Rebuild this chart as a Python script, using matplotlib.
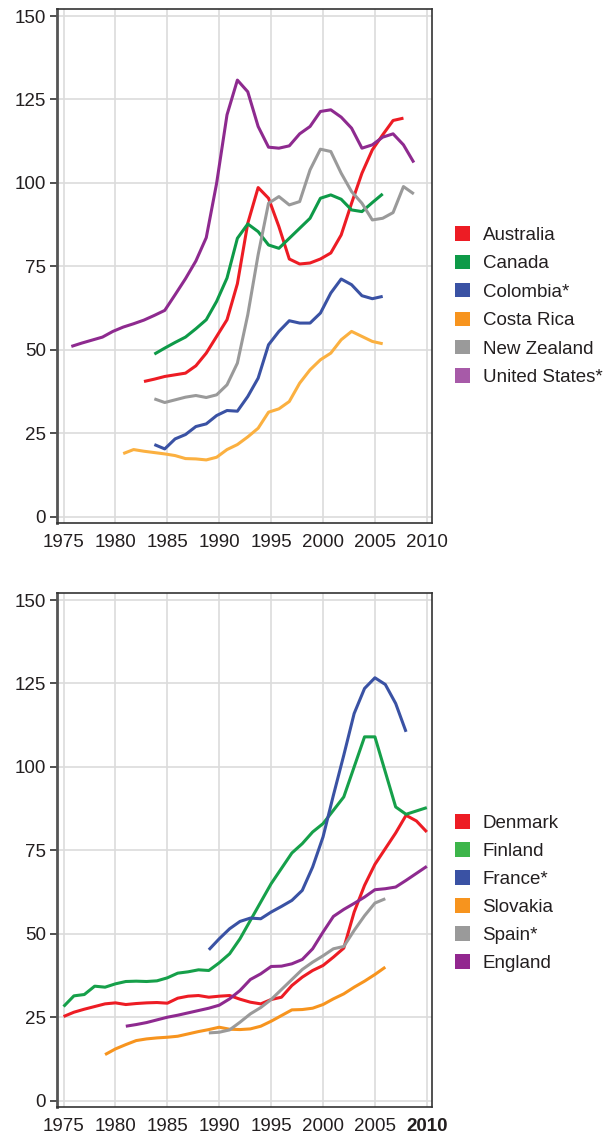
import matplotlib
matplotlib.use("Agg")
import matplotlib.pyplot as plt
from matplotlib.patches import Patch

plt.rcParams['font.family'] = ['Liberation Sans', 'DejaVu Sans']

# ---------------- top panel data ----------------
aus_years = list(range(1982, 2008))
aus_vals = [40.5, 41.2, 42.0, 42.5, 43.0, 45.2, 49.0, 54.0, 59.0, 69.8, 87.9, 98.6, 95.4,
            86.9, 77.2, 75.7, 76.0, 77.2, 79.0, 84.4, 93.9, 102.9, 109.9, 114.4, 118.7, 119.4]

can_years = list(range(1983, 2006))
can_vals = [48.7, 50.5, 52.2, 53.8, 56.3, 59.0, 64.5, 71.5, 83.4, 87.7, 85.4, 81.4, 80.4,
            83.4, 86.4, 89.4, 95.4, 96.4, 95.1, 91.9, 91.4, 94.1, 96.7]

col_years = list(range(1983, 2006))
col_vals = [21.6, 20.3, 23.3, 24.6, 27.0, 27.8, 30.3, 31.8, 31.6, 36.0, 41.5, 51.5, 55.5,
            58.7, 58.0, 58.0, 61.0, 67.0, 71.2, 69.5, 66.2, 65.3, 66.0]

cri_years = list(range(1980, 2006))
cri_vals = [18.9, 20.1, 19.6, 19.2, 18.8, 18.3, 17.4, 17.3, 17.0, 17.8, 20.1, 21.6, 23.9,
            26.5, 31.3, 32.3, 34.5, 40.0, 44.0, 47.0, 49.0, 53.0, 55.5, 54.0, 52.5, 51.8]

nzl_years = list(range(1983, 2009))
nzl_vals = [35.3, 34.2, 35.0, 35.8, 36.3, 35.7, 36.5, 39.5, 46.0, 60.5, 78.5, 93.9, 95.9,
            93.4, 94.4, 103.9, 110.1, 109.4, 102.9, 97.4, 93.9, 88.9, 89.4, 91.1, 98.9, 96.7]

usa_years = list(range(1975, 2009))
usa_vals = [51.0, 52.0, 52.9, 53.8, 55.5, 56.8, 57.8, 58.9, 60.3, 61.8, 66.5, 71.3, 76.6,
            83.6, 99.9, 120.4, 130.8, 127.3, 116.9, 110.7, 110.4, 111.1, 114.7, 116.9,
            121.4, 121.9, 119.7, 116.4, 110.4, 111.4, 113.7, 114.7, 111.4, 106.1]

top_names = ["Australia", "Canada", "Colombia*", "Costa Rica", "New Zealand", "United States*"]

# ---------------- bottom panel data ----------------
den_years = list(range(1975, 2011))
den_vals = [25.2, 26.5, 27.4, 28.2, 29.0, 29.3, 28.8, 29.1, 29.3, 29.4, 29.2, 30.7, 31.3,
            31.5, 31.0, 31.3, 31.5, 30.4, 29.5, 29.0, 30.3, 31.0, 34.5, 37.0, 39.0, 40.5,
            43.0, 45.7, 56.5, 64.5, 70.8, 75.5, 80.2, 85.5, 83.8, 80.5]

fin_years = list(range(1975, 2011))
fin_vals = [28.2, 31.4, 31.8, 34.3, 34.0, 35.0, 35.7, 35.8, 35.7, 35.9, 36.8, 38.2, 38.6,
            39.2, 39.0, 41.3, 44.0, 48.5, 54.0, 59.5, 65.0, 69.6, 74.2, 77.0, 80.5, 83.0,
            87.0, 91.0, 100.0, 109.0, 109.0, 98.5, 88.0, 85.8, 86.8, 87.8]

fra_years = list(range(1989, 2009))
fra_vals = [45.2, 48.5, 51.5, 53.7, 54.7, 54.5, 56.5, 58.2, 60.0, 63.0, 70.0, 79.0, 91.5,
            103.5, 116.0, 123.5, 126.7, 124.7, 119.0, 110.5]

svk_years = list(range(1979, 2007))
svk_vals = [13.8, 15.5, 16.8, 18.0, 18.5, 18.8, 19.0, 19.3, 20.0, 20.7, 21.3, 22.0, 21.4,
            21.3, 21.5, 22.3, 23.8, 25.5, 27.2, 27.3, 27.7, 28.8, 30.5, 32.0, 34.0, 35.8,
            37.8, 40.0]

esp_years = list(range(1989, 2007))
esp_vals = [20.3, 20.5, 21.2, 23.5, 26.0, 27.9, 30.3, 33.3, 36.3, 39.3, 41.5, 43.4, 45.5,
            46.2, 51.0, 55.4, 59.2, 60.5]

eng_years = list(range(1981, 2011))
eng_vals = [22.3, 22.8, 23.4, 24.2, 25.0, 25.6, 26.3, 27.0, 27.7, 28.6, 30.5, 33.0, 36.3,
            38.0, 40.2, 40.3, 41.0, 42.3, 45.5, 50.5, 55.2, 57.3, 59.1, 61.0, 63.2, 63.5,
            64.0, 66.0, 68.1, 70.2]

bottom_names = ["Denmark", "Finland", "France*", "Slovakia", "Spain*", "England"]

x_ticks = [1975, 1980, 1985, 1990, 1995, 2000, 2005, 2010]
y_ticks = [0, 25, 50, 75, 100, 125, 150]

# ---------------- styling ----------------
top_line_colors = ["#ED1C24", "#0E9A48", "#3A52A4", "#FBB040", "#9A9A9A", "#8E2A8F"]
top_leg_colors = ["#ED1C24", "#0E9A48", "#3A52A4", "#F7941E", "#9A9A9A", "#A75AA8"]
bot_line_colors = ["#ED1C24", "#16A04A", "#3A52A4", "#F7941E", "#9A9A9A", "#8E2A8F"]
bot_leg_colors = ["#ED1C24", "#3DB54A", "#3A52A4", "#F7941E", "#9A9A9A", "#92278F"]
TOP_X_SHIFT = 0.75  # top panel lines sit between year gridlines

W, H = 608, 1142
fig = plt.figure(figsize=(W / 100, H / 100), dpi=100)
FS = 13.5
TXT = "#231F20"


def style_axes(ax):
    ax.set_xlim(1974.37, 2010.5)
    ax.set_ylim(-1.9, 152.1)
    ax.set_xticks(x_ticks)
    ax.set_yticks(y_ticks)
    ax.grid(True, color="#DCDCDC", lw=1.2)
    ax.set_axisbelow(True)
    for s in ["top", "right", "bottom"]:
        ax.spines[s].set_color("#333333")
        ax.spines[s].set_linewidth(1.2)
    ax.spines["left"].set_color("#555555")
    ax.spines["left"].set_linewidth(2.0)
    ax.tick_params(axis="x", length=0, pad=8, labelsize=FS, labelcolor=TXT)
    ax.tick_params(axis="y", length=5, width=1.2, color="#333333", pad=3,
                   labelsize=FS, labelcolor=TXT)


def draw_panel(ax, series, line_colors, leg_colors, names, shift, legend_top, spacing):
    for (yrs, vals), col in zip(series, line_colors):
        ax.plot([y + shift for y in yrs], vals, color=col, lw=2.2,
                solid_joinstyle="round", solid_capstyle="butt")
    style_axes(ax)
    handles = [Patch(facecolor=c, edgecolor="none", label=n) for c, n in zip(leg_colors, names)]
    fig.legend(handles=handles, loc="upper left",
               bbox_to_anchor=(446 / W, 1 - legend_top / H), frameon=False,
               fontsize=FS, handlelength=0.8, handleheight=0.8, handletextpad=0.65,
               labelspacing=spacing, borderpad=0, labelcolor=TXT)


ax_top = fig.add_axes([57 / W, 1 - 523 / H, 375 / W, 514 / H])
draw_panel(ax_top,
           [(aus_years, aus_vals), (can_years, can_vals), (col_years, col_vals),
            (cri_years, cri_vals), (nzl_years, nzl_vals), (usa_years, usa_vals)],
           top_line_colors, top_leg_colors, top_names, TOP_X_SHIFT, 217, 0.57)

ax_bot = fig.add_axes([57 / W, 1 - 1107 / H, 375 / W, 514 / H])
draw_panel(ax_bot,
           [(den_years, den_vals), (fin_years, fin_vals), (fra_years, fra_vals),
            (svk_years, svk_vals), (esp_years, esp_vals), (eng_years, eng_vals)],
           bot_line_colors, bot_leg_colors, bottom_names, 0, 805, 0.55)
ax_bot.get_xticklabels()[-1].set_fontweight("bold")

fig.savefig("out.png", dpi=100)
